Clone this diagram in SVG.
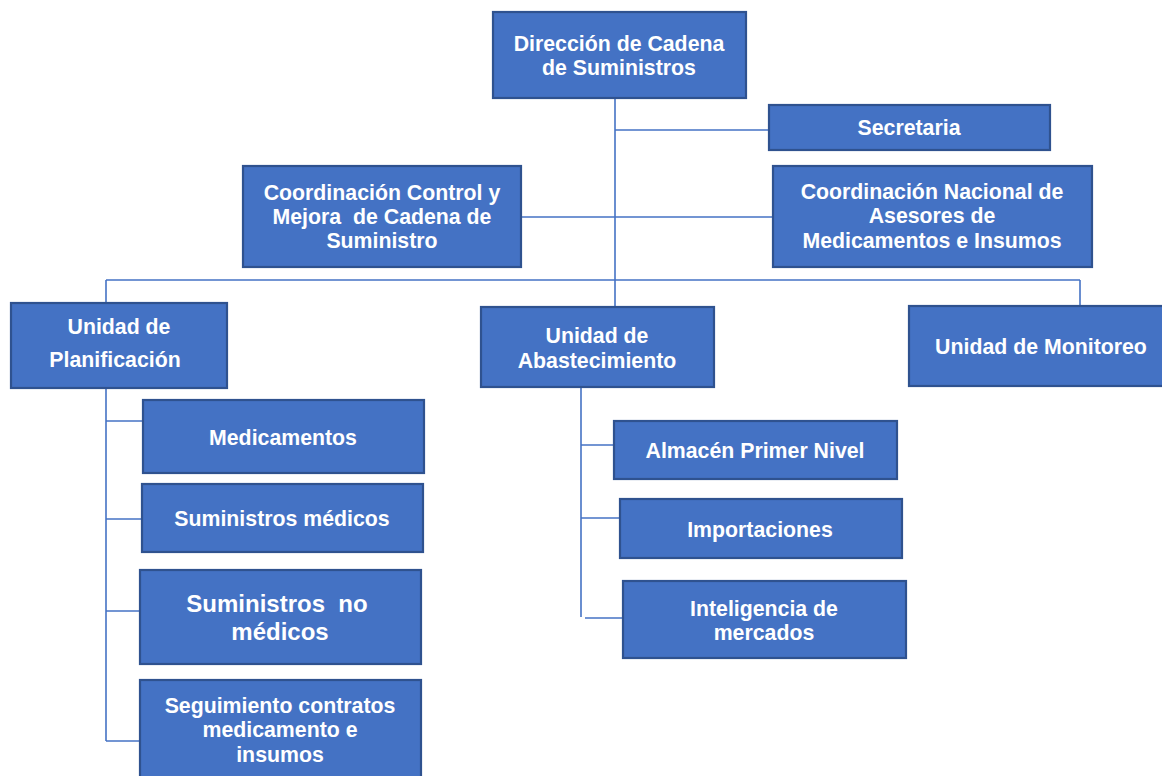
<svg xmlns="http://www.w3.org/2000/svg" width="1162" height="776" viewBox="0 0 1162 776">
<style>
.box{fill:#4472C4;stroke:#2F528F;stroke-width:2.2}
.t{font-family:"Liberation Sans",Arial,sans-serif;font-weight:bold;font-size:21.3px;fill:#FFFFFF;text-anchor:middle;white-space:pre}
.big{font-size:24px}
.ln{stroke:#4472C4;stroke-width:1.6;fill:none}
</style>
<rect width="1162" height="776" fill="#FFFFFF"/>
<g id="connectors">
<path class="ln" d="M615,98 V307"/>
<path class="ln" d="M615,130 H769"/>
<path class="ln" d="M521,217 H773"/>
<path class="ln" d="M106,280 H1080"/>
<path class="ln" d="M106,280 V303"/>
<path class="ln" d="M1080,280 V306"/>
<path class="ln" d="M106,388 V741"/>
<path class="ln" d="M106,421 H143"/>
<path class="ln" d="M106,519 H142"/>
<path class="ln" d="M106,611 H140"/>
<path class="ln" d="M106,741 H140"/>
<path class="ln" d="M581,387 V617"/>
<path class="ln" d="M581,445 H614"/>
<path class="ln" d="M581,518 H619"/>
<path class="ln" d="M585,618 H623"/>
</g>
<g id="direccion"><rect class="box" x="493" y="12" width="253" height="86"/>
<text class="t" x="619" y="51">Dirección de Cadena</text><text class="t" x="619" y="75">de Suministros</text></g>
<g id="secretaria"><rect class="box" x="769" y="105" width="281" height="45"/>
<text class="t" x="909" y="135">Secretaria</text></g>
<g id="coord-control"><rect class="box" x="243" y="166" width="278" height="101"/>
<text class="t" x="382" y="200">Coordinación Control y</text><text class="t" x="382" y="224" xml:space="preserve">Mejora  de Cadena de</text><text class="t" x="382" y="248">Suministro</text></g>
<g id="coord-nacional"><rect class="box" x="773" y="166" width="319" height="101"/>
<text class="t" x="932" y="199">Coordinación Nacional de</text><text class="t" x="932" y="223">Asesores de</text><text class="t" x="932" y="248">Medicamentos e Insumos</text></g>
<g id="planificacion"><rect class="box" x="11" y="303" width="216" height="85"/>
<text class="t" x="119" y="334">Unidad de</text><text class="t" x="115" y="367">Planificación</text></g>
<g id="abastecimiento"><rect class="box" x="481" y="307" width="233" height="80"/>
<text class="t" x="597" y="343">Unidad de</text><text class="t" x="597" y="368">Abastecimiento</text></g>
<g id="monitoreo"><rect class="box" x="909" y="306" width="266" height="80"/>
<text class="t" x="1041" y="354">Unidad de Monitoreo</text></g>
<g id="medicamentos"><rect class="box" x="143" y="400" width="281" height="73"/>
<text class="t" x="283" y="445">Medicamentos</text></g>
<g id="suministros-medicos"><rect class="box" x="142" y="484" width="281" height="68"/>
<text class="t" x="282" y="526">Suministros médicos</text></g>
<g id="suministros-no-medicos"><rect class="box" x="140" y="570" width="281" height="94"/>
<text class="t big" x="277" y="612" xml:space="preserve">Suministros  no</text><text class="t big" x="280" y="640">médicos</text></g>
<g id="seguimiento"><rect class="box" x="140" y="680" width="281" height="100"/>
<text class="t" x="280" y="713">Seguimiento contratos</text><text class="t" x="280" y="737">medicamento e</text><text class="t" x="280" y="762">insumos</text></g>
<g id="almacen"><rect class="box" x="614" y="421" width="283" height="58"/>
<text class="t" x="755" y="458">Almacén Primer Nivel</text></g>
<g id="importaciones"><rect class="box" x="620" y="499" width="282" height="59"/>
<text class="t" x="760" y="537">Importaciones</text></g>
<g id="inteligencia"><rect class="box" x="623" y="581" width="283" height="77"/>
<text class="t" x="764" y="616">Inteligencia de</text><text class="t" x="764" y="640">mercados</text></g>
</svg>
